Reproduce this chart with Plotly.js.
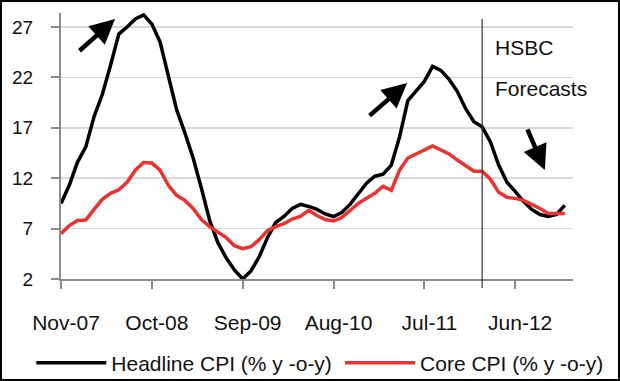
<!DOCTYPE html>
<html><head><meta charset="utf-8">
<script src="https://cdn.plot.ly/plotly-3.0.1.min.js"></script>
<style>
html,body{margin:0;padding:0;background:#fff}
#wrap{width:620px;height:381px;box-sizing:border-box;border:2px solid #000;overflow:hidden;background:#fff}
#chart{width:616px;height:377px}
</style>
</head><body><div id="wrap"><div id="chart"></div></div>
<script>
const months = ["Nov-07","Dec-07",
 "Jan-08","Feb-08","Mar-08","Apr-08","May-08","Jun-08","Jul-08","Aug-08","Sep-08","Oct-08","Nov-08","Dec-08",
 "Jan-09","Feb-09","Mar-09","Apr-09","May-09","Jun-09","Jul-09","Aug-09","Sep-09","Oct-09","Nov-09","Dec-09",
 "Jan-10","Feb-10","Mar-10","Apr-10","May-10","Jun-10","Jul-10","Aug-10","Sep-10","Oct-10","Nov-10","Dec-10",
 "Jan-11","Feb-11","Mar-11","Apr-11","May-11","Jun-11","Jul-11","Aug-11","Sep-11","Oct-11","Nov-11","Dec-11",
 "Jan-12","Feb-12","Mar-12","Apr-12","May-12","Jun-12","Jul-12","Aug-12","Sep-12","Oct-12","Nov-12","Dec-12"];
const headlineCPI = [9.5, 11.3, 13.6, 15.1, 18.1, 20.3, 23.2, 26.3, 27.0, 27.8,
 28.2, 27.3, 25.5, 22.0, 18.8, 16.5, 14.0, 11.0, 7.8, 5.6,
 4.1, 2.9, 2.0, 2.8, 4.2, 6.1, 7.6, 8.2, 9.0, 9.4,
 9.2, 8.9, 8.45, 8.2, 8.6, 9.4, 10.5, 11.5, 12.2, 12.4,
 13.3, 16.1, 19.7, 20.6, 21.6, 23.1, 22.7, 21.8, 20.6, 18.9,
 17.6, 17.1, 15.6, 13.3, 11.6, 10.7, 9.7, 8.9, 8.4, 8.2,
 8.4, 9.3];
const coreCPI = [6.5, 7.3, 7.8, 7.85, 8.9, 9.9, 10.5, 10.85, 11.6, 12.8,
 13.55, 13.5, 12.8, 11.3, 10.3, 9.8, 9.0, 7.9, 7.2, 6.7,
 6.1, 5.3, 5.0, 5.2, 5.9, 6.8, 7.2, 7.5, 7.95, 8.2,
 8.8, 8.3, 7.9, 7.75, 8.1, 8.8, 9.5, 10.0, 10.5, 11.2,
 10.8, 12.8, 14.0, 14.4, 14.8, 15.2, 14.8, 14.4, 13.8, 13.2,
 12.7, 12.7, 11.9, 10.6, 10.1, 10.0, 9.8, 9.4, 9.0, 8.5,
 8.5, 8.5];
const tickLabels = ["Nov-07","Oct-08","Sep-09","Aug-10","Jul-11","Jun-12"];
const yTicks = [2, 7, 12, 17, 22, 27];
const seriesNames = ["Headline CPI (% y -o-y)", "Core CPI (% y -o-y)"];
const forecastStart = "Feb-12";
const forecastLabel = ["HSBC", "Forecasts"];

const FONT = "'Liberation Sans', Arial, sans-serif";
const traces = [
  {x: months, y: headlineCPI, name: seriesNames[0], type: 'scatter', mode: 'lines',
   line: {color: '#000000', width: 3.5}, legend: 'legend'},
  {x: months, y: coreCPI, name: seriesNames[1], type: 'scatter', mode: 'lines',
   line: {color: '#ee3030', width: 3.5}, legend: 'legend2'}
];

const arrow = (x, y, ax, ay) => ({xref: 'paper', yref: 'paper', x: x, y: y, ax: ax, ay: ay,
  text: '', showarrow: true, arrowhead: 2, arrowsize: 1.1, arrowwidth: 4.5, arrowcolor: '#000'});

const legendBase = {orientation: 'h', xanchor: 'left', yref: 'container', y: 0.042, yanchor: 'middle',
  font: {family: FONT, size: 21, color: '#111'}, itemwidth: 70, borderwidth: 0, bgcolor: 'rgba(0,0,0,0)'};

const layout = {
  width: 616, height: 377,
  margin: {l: 59, r: 45, t: 11, b: 100},
  paper_bgcolor: '#fff', plot_bgcolor: '#fff',
  font: {family: FONT, color: '#111', size: 20},
  showlegend: true,
  legend: Object.assign({}, legendBase, {x: -0.058}),
  legend2: Object.assign({}, legendBase, {x: 0.545}),
  xaxis: {type: 'category', range: [0, 62], tickmode: 'array', tickvals: tickLabels, ticktext: tickLabels,
    showgrid: false, zeroline: false, showline: true, linecolor: '#8c8c8c', linewidth: 2,
    ticks: 'outside', ticklen: 8, tickwidth: 2, tickcolor: '#8c8c8c',
    tickfont: {family: FONT, size: 21, color: '#111'}, ticklabelstandoff: 16, ticklabelshift: 5},
  yaxis: {range: [2, 28.39], tickmode: 'array', tickvals: yTicks,
    showgrid: true, gridcolor: '#d9d9d9', gridwidth: 1.5, zeroline: false,
    showline: true, linecolor: '#8c8c8c', linewidth: 2,
    ticks: 'outside', ticklen: 8, tickwidth: 2, tickcolor: '#8c8c8c',
    tickfont: {family: FONT, size: 19, color: '#111'}, ticklabelstandoff: 14},
  shapes: [
    {type: 'line', xref: 'x', yref: 'paper', x0: forecastStart, x1: forecastStart, y0: -0.034, y1: 0.977,
     line: {color: '#333', width: 1.2}}
  ],
  annotations: [
    {xref: 'paper', yref: 'paper', x: 0.844, y: 0.872, xanchor: 'left', yanchor: 'middle', showarrow: false,
     text: forecastLabel[0], font: {family: FONT, size: 21, color: '#111'}},
    {xref: 'paper', yref: 'paper', x: 0.844, y: 0.718, xanchor: 'left', yanchor: 'middle', showarrow: false,
     text: forecastLabel[1], font: {family: FONT, size: 21, color: '#111'}},
    arrow(0.1055, 0.977, -37, 33),
    arrow(0.676, 0.737, -39, 34),
    arrow(0.945, 0.41, -18, -42)
  ]
};
Plotly.newPlot('chart', traces, layout, {displayModeBar: false, staticPlot: true});
</script>
</body></html>
